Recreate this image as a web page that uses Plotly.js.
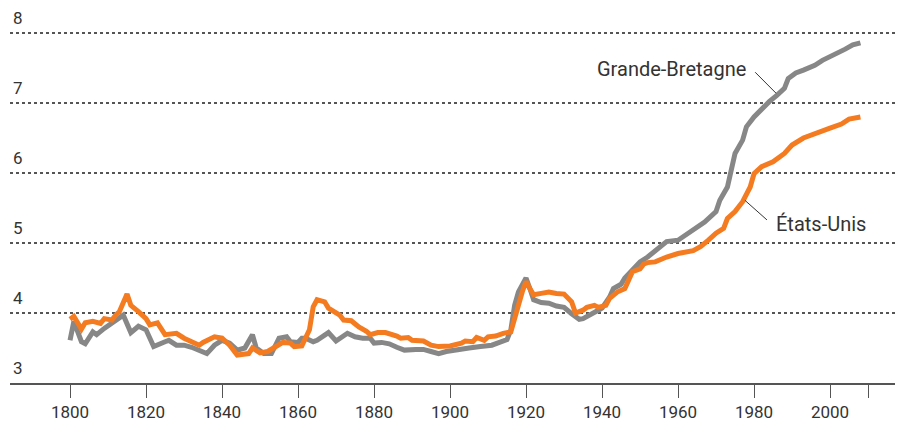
<!DOCTYPE html>
<html>
<head>
<meta charset="utf-8">
<script src="https://cdn.plot.ly/plotly-3.0.1.min.js"></script>
<style>html,body{margin:0;padding:0;background:#fff;}#chart{width:903px;height:427px;}</style>
</head>
<body>
<div id="chart"></div>
<script>
// Grande-Bretagne (gray)
const gbYears = [1800,1801,1803,1804,1806,1807,1809,1811,1812,1814,1816,1818,1820,1822,1825,1826,1828,1830,1832,1836,1838,1840,1842,1844,1846,1848,1849,1851,1853,1854,1855,1857,1858,1860,1861,1862,1864,1865,1868,1870,1872,1873,1875,1877,1879,1880,1882,1884,1886,1888,1891,1893,1895,1897,1899,1901,1904,1905,1908,1911,1913,1915,1916,1917,1918,1919,1920,1921,1922,1924,1926,1928,1930,1932,1934,1935,1937,1939,1940,1942,1943,1945,1946,1948,1949,1950,1952,1955,1957,1960,1962,1965,1967,1970,1971,1973,1974,1975,1977,1978,1980,1982,1984,1986,1988,1989,1991,1993,1996,1998,2000,2002,2004,2006,2008];
const gbValues = [3.61,3.88,3.59,3.56,3.73,3.69,3.78,3.85,3.88,3.97,3.72,3.81,3.76,3.52,3.59,3.61,3.54,3.54,3.51,3.42,3.54,3.61,3.57,3.47,3.50,3.69,3.50,3.42,3.42,3.54,3.64,3.66,3.59,3.58,3.64,3.64,3.59,3.61,3.72,3.60,3.66,3.71,3.66,3.64,3.64,3.57,3.58,3.56,3.51,3.47,3.48,3.48,3.45,3.42,3.45,3.47,3.49,3.50,3.52,3.54,3.58,3.62,3.76,4.11,4.30,4.40,4.50,4.35,4.19,4.15,4.14,4.10,4.08,3.99,3.91,3.92,3.99,4.04,4.07,4.23,4.35,4.41,4.50,4.61,4.66,4.73,4.80,4.92,5.02,5.04,5.11,5.21,5.30,5.45,5.61,5.80,6.04,6.28,6.47,6.66,6.80,6.92,7.02,7.11,7.21,7.35,7.43,7.47,7.54,7.61,7.66,7.71,7.77,7.83,7.86];

// États-Unis (orange)
const usYears = [1800,1801,1803,1804,1806,1808,1809,1811,1812,1813,1815,1816,1818,1820,1821,1823,1825,1828,1830,1832,1834,1835,1838,1840,1842,1844,1847,1848,1849,1850,1852,1854,1856,1858,1859,1861,1863,1864,1865,1867,1868,1871,1872,1874,1876,1878,1879,1881,1883,1886,1887,1889,1890,1893,1895,1897,1900,1903,1904,1906,1907,1909,1910,1912,1914,1916,1917,1918,1919,1920,1921,1922,1924,1926,1928,1930,1932,1933,1935,1936,1938,1939,1941,1942,1944,1946,1947,1948,1950,1951,1952,1954,1957,1960,1964,1966,1968,1970,1972,1973,1975,1977,1979,1980,1982,1985,1988,1990,1993,1997,2000,2003,2005,2008];
const usValues = [3.91,3.95,3.77,3.86,3.88,3.85,3.92,3.90,3.97,4.02,4.27,4.11,4.02,3.92,3.83,3.86,3.69,3.71,3.64,3.59,3.54,3.58,3.66,3.64,3.54,3.40,3.42,3.50,3.47,3.43,3.45,3.52,3.58,3.57,3.52,3.53,3.76,4.09,4.19,4.16,4.07,3.97,3.90,3.89,3.80,3.74,3.69,3.72,3.72,3.67,3.64,3.65,3.61,3.60,3.54,3.52,3.53,3.57,3.60,3.59,3.65,3.61,3.66,3.67,3.71,3.73,3.90,4.11,4.30,4.45,4.35,4.26,4.28,4.30,4.28,4.27,4.16,4.00,4.04,4.08,4.11,4.08,4.11,4.21,4.30,4.35,4.47,4.59,4.63,4.70,4.72,4.73,4.80,4.85,4.89,4.95,5.04,5.14,5.21,5.35,5.45,5.59,5.80,5.99,6.09,6.16,6.28,6.40,6.50,6.57,6.64,6.70,6.77,6.80];

const xTickVals = [1800,1820,1840,1860,1880,1900,1920,1940,1960,1980,2000,2010];
const xTickText = ['1800','1820','1840','1860','1880','1900','1920','1940','1960','1980','2000',''];
const yTickVals = [3,4,5,6,7,8];
const seriesNames = ['Grande-Bretagne','États-Unis'];
const seriesColors = ['#878787','#F47B20'];

const txtFont = {family:'Roboto, "DejaVu Sans", sans-serif', size:17, color:'#333333'};

const traces = [
  {x:gbYears, y:gbValues, name:seriesNames[0], mode:'lines', line:{color:seriesColors[0], width:5}},
  {x:usYears, y:usValues, name:seriesNames[1], mode:'lines', line:{color:seriesColors[1], width:5}}
];

const annotations = yTickVals.map(v => ({
  xref:'paper', yref:'y', x:0, y:v, text:String(v), showarrow:false,
  xanchor:'left', yanchor:'bottom', xshift:1, yshift:3, font:txtFont
}));
annotations.push({x:1978.4, y:7.49, xref:'x', yref:'y', text:seriesNames[0], showarrow:false, xanchor:'right', yanchor:'middle', font:{...txtFont, size:20}});
annotations.push({x:1985.3, y:5.27, xref:'x', yref:'y', text:seriesNames[1], showarrow:false, xanchor:'left', yanchor:'middle', font:{...txtFont, size:20}});

const layout = {
  width:903, height:427,
  margin:{l:10, r:8, t:10, b:44},
  paper_bgcolor:'#fff', plot_bgcolor:'#fff',
  showlegend:false,
  xaxis:{
    range:[1784.2, 2017.1], tickvals:xTickVals, ticktext:xTickText,
    showgrid:false, zeroline:false, showline:true, linecolor:'#555', linewidth:1.5,
    ticks:'outside', ticklen:13, tickcolor:'#555', tickwidth:1,
    tickfont:txtFont
  },
  yaxis:{
    range:[3, 8.329], tickvals:yTickVals, showticklabels:false,
    showgrid:true, gridcolor:'#555', gridwidth:1.2, griddash:'dot',
    zeroline:false, showline:false
  },
  shapes:[
    {type:'line', xref:'x', yref:'y', x0:1980.3, y0:7.44, x1:1985.8, y1:7.14, line:{color:'#333', width:1}},
    {type:'line', xref:'x', yref:'y', x0:1977.6, y0:5.61, x1:1983.4, y1:5.33, line:{color:'#333', width:1}}
  ],
  annotations:annotations
};

Plotly.newPlot('chart', traces, layout, {displayModeBar:false, staticPlot:true});
</script>
</body>
</html>
